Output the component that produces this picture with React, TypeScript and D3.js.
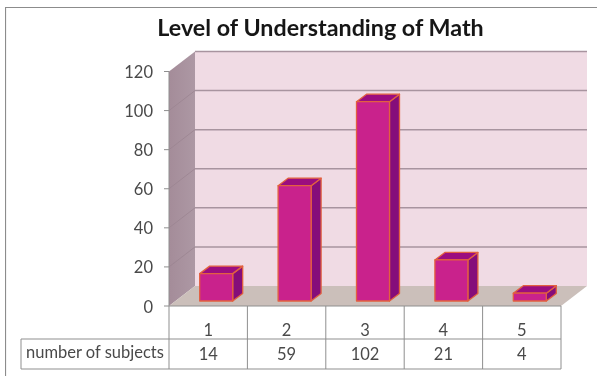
import React from "react";
import * as d3 from "d3";

const categories = ["1", "2", "3", "4", "5"];
const subjects = [14, 59, 102, 21, 4];
const seriesName = "number of subjects";
const yTicks = [0, 20, 40, 60, 80, 100, 120];

const width = 597;
const height = 376;
// oblique offset from the front of the chart box to the back wall
const depthX = 26;
const depthY = -20;
// same thing for one bar, bars stand a little way in from the front edge
const barDepthX = 10;
const barDepthY = -7.5;
const barInsetX = 8;
const barInsetY = -5;

const font = "Lato, 'Open Sans', sans-serif";

export default function App() {
  const x = d3.scaleBand<string>().domain(categories).range([169, 561]).paddingInner(0);
  const y = d3.scaleLinear().domain([0, 120]).range([306, 71.5]);
  const barW = 33;
  const [x0, x1] = x.range();
  const y0 = y(0);
  const yTop = y(120);
  const poly = (pts: number[][]) => d3.line()(pts as [number, number][]) + "Z";

  const tableMid = 339;
  const tableBottom = 369;

  return (
    <svg
      width={width}
      height={height}
      style={{ position: "absolute", left: 0, top: 0, background: "#fff" }}
    >
      <defs>
        <linearGradient id="sideWall" x1="0" x2="1" y1="0" y2="0">
          <stop offset="0" stopColor="#a48c99" />
          <stop offset="1" stopColor="#ad98a4" />
        </linearGradient>
        {/* the reference is a soft scan, a touch of blur gets closer to it */}
        <filter id="soft" x="0" y="0" width="100%" height="100%">
          <feGaussianBlur stdDeviation="0.45" />
        </filter>
      </defs>

      <g filter="url(#soft)">
        {/* outer frame */}
        <path d={`M5.5,${height}V7.5H${width}`} fill="none" stroke="#8c8c8c" strokeWidth={1.2} />

        <text
          x={320.5}
          y={36}
          textAnchor="middle"
          fontFamily={font}
          fontWeight={700}
          fontSize={23.3}
          fill="#151515"
        >
          Level of Understanding of Math
        </text>

        {/* walls and floor */}
        <path
          d={poly([[x0 + depthX, yTop + depthY], [x1 + depthX, yTop + depthY], [x1 + depthX, y0 + depthY], [x0 + depthX, y0 + depthY]])}
          fill="#f0dbe4"
        />
        <path
          d={poly([[x0, yTop], [x0 + depthX, yTop + depthY], [x0 + depthX, y0 + depthY], [x0, y0]])}
          fill="url(#sideWall)"
        />
        <path
          d={poly([[x0, y0], [x0 + depthX, y0 + depthY], [x1 + depthX, y0 + depthY], [x1, y0]])}
          fill="#cbbfba"
        />
        <path
          d={`M${x0 + depthX},${yTop + depthY}H${x1 + depthX}`}
          fill="none"
          stroke="#a8949f"
          strokeWidth={1.3}
        />
        {yTicks.filter((t) => t > 0 && t < 120).map((t) => (
          <g key={t} fill="none">
            <path
              d={`M${x0},${y(t)}L${x0 + depthX},${y(t) + depthY}`}
              stroke="#9a8491"
              strokeWidth={0.8}
            />
            <path
              d={`M${x0 + depthX},${y(t) + depthY}H${x1 + depthX}`}
              stroke="#a8949f"
              strokeWidth={1.5}
            />
          </g>
        ))}

        {/* y axis */}
        <path d={`M${x0},${yTop}V${y0}`} stroke="#8f8f8f" strokeWidth={1} />
        {yTicks.map((t) => (
          <g key={t}>
            <path d={`M${x0 - 5},${y(t)}H${x0}`} stroke="#8f8f8f" strokeWidth={1} />
            <text
              x={153}
              y={y(t) + 6.5}
              textAnchor="end"
              fontFamily={font}
              fontSize={16.5}
              fill="#4a4a4a"
            >
              {t}
            </text>
          </g>
        ))}

        {/* bars */}
        {categories.map((c, i) => {
          const left = x(c)! + x.bandwidth() / 2 - barW / 2 + barInsetX;
          const right = left + barW;
          const bottom = y0 + barInsetY;
          const top = bottom - (y0 - y(subjects[i]));
          const dx = barDepthX;
          const dy = barDepthY;
          return (
            <g key={c} stroke="#e2603f" strokeWidth={1.3} strokeLinejoin="round">
              <path
                d={poly([[right, top], [right + dx, top + dy], [right + dx, bottom + dy], [right, bottom]])}
                fill="#85107a"
              />
              <path
                d={poly([[left, top], [left + dx, top + dy], [right + dx, top + dy], [right, top]])}
                fill="#9b0f7f"
              />
              <rect x={left} y={top} width={barW} height={bottom - top} fill="#c9218c" />
            </g>
          );
        })}

        {/* data table */}
        <g fill="none" stroke="#8f8f8f" strokeWidth={1}>
          <path d={`M21,${tableMid}H${x1}M21,${tableBottom}H${x1}M21,${tableMid}V${tableBottom}`} />
          <path d={`M${x0},${y0}H${x1}`} />
          {[...categories.map((c) => x(c)!), x1].map((vx) => (
            <path key={vx} d={`M${vx},${y0}V${tableBottom}`} />
          ))}
        </g>
        <g fontFamily={font} fontSize={16.5} fill="#4a4a4a">
          <text x={26} y={358}>{seriesName}</text>
          {categories.map((c, i) => (
            <g key={c} textAnchor="middle">
              <text x={x(c)! + x.bandwidth() / 2} y={336}>{c}</text>
              <text x={x(c)! + x.bandwidth() / 2} y={360}>{subjects[i]}</text>
            </g>
          ))}
        </g>
      </g>
    </svg>
  );
}
